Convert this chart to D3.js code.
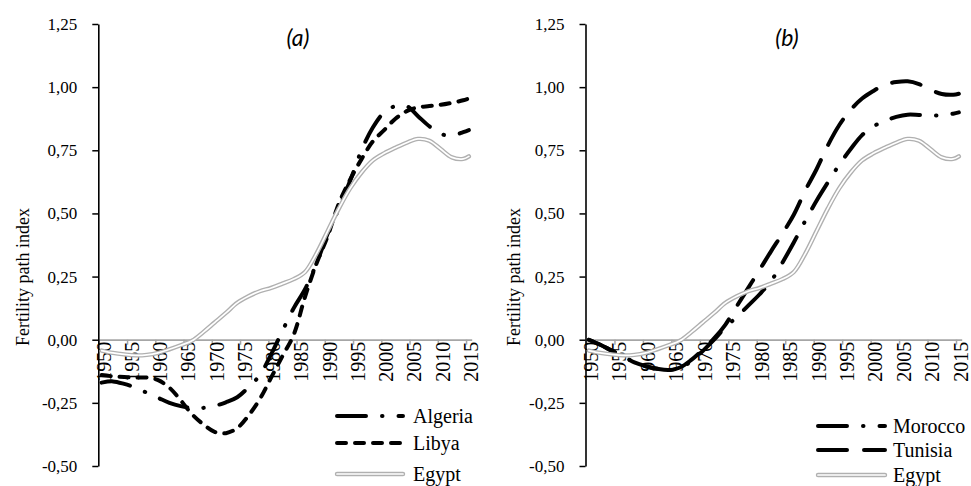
<!DOCTYPE html>
<html>
<head>
<meta charset="utf-8">
<script src="https://cdnjs.cloudflare.com/ajax/libs/d3/7.8.5/d3.min.js"></script>
<style>
    body { margin: 0; background: #fff; }
    svg text { font-family: "Liberation Serif", "Times New Roman", Tinos, "DejaVu Serif", serif; fill: #000; }
    svg text.title { font-family: Lato, "Open Sans", sans-serif; font-style: italic; }
</style>
</head>
<body>
<svg id="chart" width="971" height="486"></svg>
<script>
// categories: one band per year on the x axis
var years = [1950,1951,1952,1953,1954,1955,1956,1957,1958,1959,1960,1961,1962,1963,1964,1965,1966,1967,1968,1969,
             1970,1971,1972,1973,1974,1975,1976,1977,1978,1979,1980,1981,1982,1983,1984,1985,1986,1987,1988,1989,
             1990,1991,1992,1993,1994,1995,1996,1997,1998,1999,2000,2001,2002,2003,2004,2005,2006,2007,2008,2009,
             2010,2011,2012,2013,2014,2015];
var sampleYears = [1950,1952,1954,1956,1958,1960,1962,1964,1966,1968,1970,1972,1974,1976,1978,1980,1982,1984,
                   1986,1988,1990,1992,1994,1996,1998,2000,2002,2004,2006,2008,2010,2012,2014,2015];

var algeria = [-0.17,-0.165,-0.175,-0.19,-0.21,-0.23,-0.25,-0.263,-0.27,-0.27,-0.262,-0.248,-0.228,-0.188,-0.14,-0.058,0.035,0.125,
               0.2,0.3,0.42,0.52,0.63,0.75,0.84,0.9,0.925,0.925,0.885,0.845,0.815,0.808,0.822,0.83];
var libya   = [-0.14,-0.145,-0.148,-0.15,-0.15,-0.16,-0.19,-0.24,-0.295,-0.335,-0.365,-0.37,-0.35,-0.3,-0.235,-0.15,-0.065,0.02,
               0.17,0.3,0.41,0.54,0.635,0.715,0.785,0.83,0.875,0.905,0.92,0.925,0.93,0.938,0.948,0.955];
var egypt   = [-0.043,-0.052,-0.058,-0.062,-0.06,-0.052,-0.038,-0.022,-0.004,0.03,0.068,0.106,0.146,0.172,0.192,0.205,0.222,0.24,
               0.268,0.34,0.43,0.52,0.6,0.662,0.71,0.738,0.76,0.78,0.795,0.788,0.755,0.722,0.716,0.726];
var morocco = [0.0,-0.02,-0.043,-0.065,-0.09,-0.105,-0.115,-0.12,-0.112,-0.085,-0.045,0.0,0.05,0.09,0.135,0.18,0.232,0.305,
               0.385,0.47,0.55,0.623,0.693,0.755,0.81,0.845,0.866,0.882,0.891,0.89,0.888,0.888,0.895,0.9];
var tunisia = [0.0,-0.02,-0.043,-0.065,-0.09,-0.105,-0.115,-0.12,-0.11,-0.08,-0.04,0.005,0.06,0.133,0.205,0.277,0.35,0.42,
               0.495,0.59,0.675,0.77,0.85,0.91,0.955,0.985,1.01,1.02,1.023,1.012,0.99,0.973,0.97,0.974];

var yTicks = [-0.5,-0.25,0,0.25,0.5,0.75,1,1.25];
var xTicks = [1950,1955,1960,1965,1970,1975,1980,1985,1990,1995,2000,2005,2010,2015];
var yLabel = "Fertility path index";

var styles = {
    Algeria: { dash: "29,16,0.5,16" },
    Morocco: { dash: "29,16,0.5,16" },
    Libya:   { dash: "9,9" },
    Tunisia: { dash: "29,17" }
};

var panels = [
    { title: "(a)", titleX: 298, left: 98.8, right: 471.7, labelX: 23,
      names: ["Algeria", "Libya", "Egypt"], data: [algeria, libya, egypt],
      legX0: 337, legX1: 403, legText: 413, legY: [416, 443, 474] },
    { title: "(b)", titleX: 787, left: 586, right: 961.7, labelX: 514,
      names: ["Morocco", "Tunisia", "Egypt"], data: [morocco, tunisia, egypt],
      legX0: 818, legX1: 885, legText: 893, legY: [426, 450, 475] }
];

var serif = "'Liberation Serif', 'Times New Roman', Tinos, 'DejaVu Serif', serif";

var svg = d3.select("#chart");
svg.append("rect").attr("width", 971).attr("height", 486).attr("fill", "#fff");

var y = d3.scaleLinear().domain([-0.5, 1.25]).range([466, 24]);

function fmt(v) {
    return (v < 0 ? "-" : "") + Math.abs(v).toFixed(2).replace(".", ",");
}

function drawLine(g, path, name) {
    if (name == "Egypt") {
        g.append("path").attr("d", path).attr("fill", "none")
            .attr("stroke", "#b0b0b0").attr("stroke-width", 4.4).attr("stroke-linecap", "round");
        g.append("path").attr("d", path).attr("fill", "none")
            .attr("stroke", "#fff").attr("stroke-width", 1.7).attr("stroke-linecap", "round");
    } else {
        g.append("path").attr("d", path).attr("fill", "none")
            .attr("stroke", "#000").attr("stroke-width", 4)
            .attr("stroke-linecap", "round")
            .attr("stroke-dasharray", styles[name].dash);
    }
}

panels.forEach(function (p) {
    var g = svg.append("g").attr("font-family", serif);
    var x = d3.scaleLinear().domain([years[0], years[years.length - 1] + 1]).range([p.left, p.right]);

    // x axis along zero
    var xAxis = g.append("g")
        .attr("transform", "translate(0," + y(0) + ")")
        .call(d3.axisBottom(x).tickValues(xTicks).tickFormat(d3.format("d")).tickSize(5).tickSizeOuter(0));
    xAxis.attr("font-family", serif);
    xAxis.select(".domain").attr("stroke", "#a6a6a6").attr("stroke-width", 1.8);
    xAxis.selectAll(".tick line").attr("stroke", "#a6a6a6").attr("stroke-width", 1.5);
    xAxis.selectAll(".tick text")
        .attr("x", null).attr("y", null).attr("dy", "0.34em")
        .attr("transform", "translate(4.5,2) rotate(-90)")
        .style("text-anchor", "end")
        .style("font-size", "20px");

    // y axis
    var yAxis = g.append("g")
        .attr("transform", "translate(" + (p.left - 0.5) + ",0)")
        .call(d3.axisLeft(y).tickValues(yTicks).tickFormat(fmt).tickSize(6).tickSizeOuter(0).tickPadding(15));
    yAxis.attr("font-family", serif);
    yAxis.select(".domain").attr("stroke", "#000").attr("stroke-width", 1.6);
    yAxis.selectAll(".tick line").attr("stroke", "#000").attr("stroke-width", 1.5);
    yAxis.selectAll(".tick text").style("font-size", "17px");

    g.append("text")
        .attr("transform", "translate(" + p.labelX + ",277) rotate(-90)")
        .attr("dy", "0.35em")
        .attr("text-anchor", "middle")
        .style("font-size", "18px")
        .text(yLabel);

    g.append("text").attr("class", "title")
        .attr("x", p.titleX).attr("y", 46)
        .attr("text-anchor", "middle")
        .style("font-size", "23px")
        .text(p.title);

    var line = d3.line()
        .x(function (d, i) { return x(sampleYears[i] + 0.5); })
        .y(function (d) { return y(d); })
        .curve(d3.curveCatmullRom.alpha(0.5));

    p.data.forEach(function (vals, k) {
        drawLine(g, line(vals), p.names[k]);
    });

    // legend
    p.names.forEach(function (name, k) {
        var ly = p.legY[k];
        drawLine(g, d3.line()([[p.legX0, ly], [p.legX1, ly]]), name);
        g.append("text")
            .attr("x", p.legText).attr("y", ly)
            .attr("dy", "0.33em")
            .style("font-size", "20px")
            .text(name);
    });
});
</script>
</body>
</html>
